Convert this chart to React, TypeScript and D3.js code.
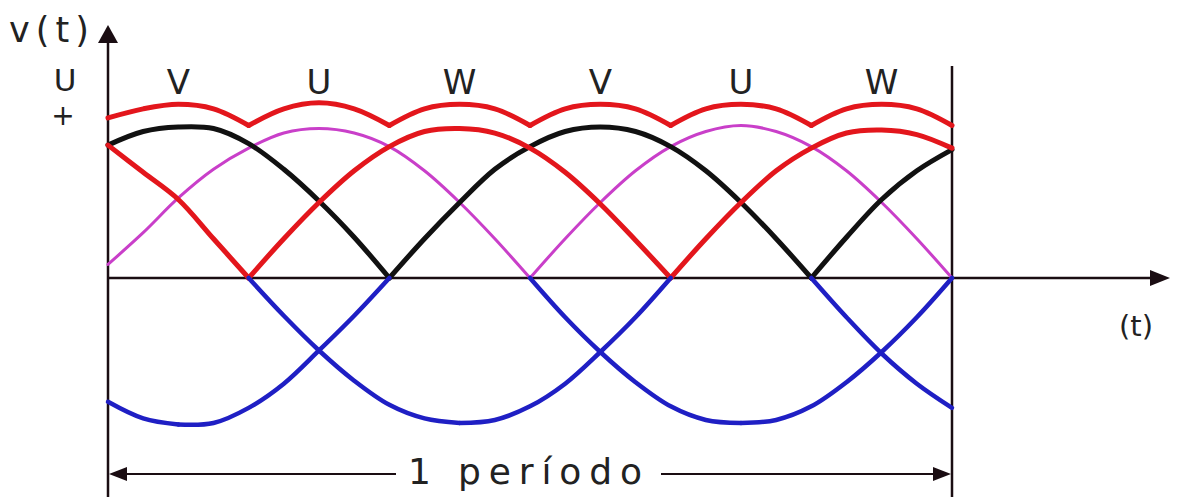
import React from "react";
import * as d3 from "d3";

// Angle grid (degrees) over one period
const ANGLES = [0, 15, 30, 45, 60, 75, 90, 105, 120, 135, 150, 165, 180, 195, 210, 225, 240, 255, 270, 285, 300, 315, 330, 345, 360];

// Positive (rectified) phases
const phaseU = [0.09, 0.30, 0.53, 0.72, 0.86, 0.96, 0.99, 0.96, 0.87, 0.71, 0.50, 0.26, 0, 0.26, 0.50, 0.71, 0.87, 0.97, 1.01, 0.97, 0.87, 0.71, 0.50, 0.26, 0];
const phaseV = [0.88, 0.97, 1.0, 0.99, 0.89, 0.72, 0.51, 0.27, 0, 0.26, 0.50, 0.72, 0.87, 0.97, 1.0, 0.97, 0.87, 0.71, 0.50, 0.26, 0, 0.27, 0.52, 0.71, 0.85];
const phaseW = [0.88, 0.70, 0.52, 0.26, 0, 0.26, 0.50, 0.71, 0.87, 0.97, 0.99, 0.96, 0.86, 0.70, 0.49, 0.25, 0, 0.26, 0.50, 0.71, 0.86, 0.96, 0.98, 0.95, 0.86];
// Upper envelope
const envelope = [1.06, 1.12, 1.15, 1.12, 1.01, 1.12, 1.16, 1.12, 1.01, 1.12, 1.15, 1.12, 1.01, 1.12, 1.15, 1.12, 1.01, 1.12, 1.15, 1.12, 1.01, 1.12, 1.15, 1.12, 1.01];
// Negative half-waves (blue)
const neg1 = [-0.82, -0.93, -0.97, -0.96, -0.86, -0.70, -0.48, -0.25, 0, null, null, null, null, null, null, null, null, null, null, null, null, null, null, null, null];
const neg2 = [null, null, null, null, 0, -0.25, -0.48, -0.68, -0.84, -0.93, -0.96, -0.94, -0.85, -0.70, -0.49, -0.26, 0, null, null, null, null, null, null, null, null];
const neg3 = [null, null, null, null, null, null, null, null, null, null, null, null, 0, -0.26, -0.49, -0.69, -0.85, -0.94, -0.96, -0.94, -0.85, -0.69, -0.49, -0.26, 0];
const neg4 = [null, null, null, null, null, null, null, null, null, null, null, null, null, null, null, null, null, null, null, null, 0, -0.26, -0.50, -0.70, -0.86];

const phaseLabels = ["V", "U", "W", "V", "U", "W"];
const phaseLabelAngles = [30, 90, 150, 210, 270, 330];

const W = 1177;
const H = 497;

function segments(vals: (number | null)[]): [number, number][][] {
  // split at interior local minima (sharp cusps)
  const segs: [number, number][][] = [];
  let cur: [number, number][] = [];
  vals.forEach((v, i) => {
    if (v == null) {
      if (cur.length) segs.push(cur);
      cur = [];
      return;
    }
    cur.push([ANGLES[i], v]);
    const prev = vals[i - 1];
    const next = vals[i + 1];
    if (prev != null && next != null && v <= prev && v <= next && i > 0 && i < vals.length - 1) {
      segs.push(cur);
      cur = [[ANGLES[i], v]];
    }
  });
  if (cur.length) segs.push(cur);
  return segs.filter((s) => s.length > 1);
}

export default function App() {
  const x = d3.scaleLinear().domain([0, 360]).range([108, 952]);
  const y = d3.scaleLinear().domain([0, 1]).range([278, 127]);
  const line = d3
    .line<[number, number]>()
    .x((d) => x(d[0]))
    .y((d) => y(d[1]))
    .curve(d3.curveCatmullRom.alpha(0.5));

  const series = [
    { vals: phaseU, color: "#c93fc9", w: 3 },
    { vals: phaseV, color: "#111111", w: 5 },
    { vals: phaseW, color: "#e3161c", w: 5 },
    { vals: neg1, color: "#1f1fc4", w: 4.5 },
    { vals: neg2, color: "#1f1fc4", w: 4.5 },
    { vals: neg3, color: "#1f1fc4", w: 4.5 },
    { vals: neg4, color: "#1f1fc4", w: 4.5 },
    { vals: envelope, color: "#e3161c", w: 5 },
  ];

  const axisColor = "#1a0d12";
  const font = "'DejaVu Sans', sans-serif";
  const x0 = x(0);
  const x1 = x(360);
  const yb = y(0);

  return (
    <svg width={W} height={H} style={{ position: "absolute", left: 0, top: 0, background: "#fff" }}>
      {/* axes */}
      <line x1={x0} y1={38} x2={x0} y2={H} stroke={axisColor} strokeWidth={2.5} />
      <path d={`M${x0},25 L${x0 - 10},43 L${x0 + 10},43 Z`} fill={axisColor} />
      <line x1={x0} y1={yb} x2={1152} y2={yb} stroke={axisColor} strokeWidth={2.5} />
      <path d={`M1170,${yb} L1150,${yb - 8} L1150,${yb + 8} Z`} fill={axisColor} />
      <line x1={x1} y1={66} x2={x1} y2={H} stroke={axisColor} strokeWidth={2.5} />

      {series.map((s, i) =>
        segments(s.vals).map((seg, j) => (
          <path
            key={`${i}-${j}`}
            d={line(seg) || ""}
            fill="none"
            stroke={s.color}
            strokeWidth={s.w}
            strokeLinecap="round"
            strokeLinejoin="round"
          />
        ))
      )}

      {/* phase labels */}
      {phaseLabels.map((l, i) => (
        <text key={i} x={x(phaseLabelAngles[i])} y={94} textAnchor="middle" fontFamily={font} fontSize={34} fill="#222">
          {l}
        </text>
      ))}
      <text x={65} y={91} textAnchor="middle" fontFamily={font} fontSize={31} fill="#222">U</text>
      <text x={63} y={125} textAnchor="middle" fontFamily={font} fontSize={28} fill="#222">+</text>
      <text x={9} y={42} fontFamily={font} fontSize={35} fill="#222" textLength={80} lengthAdjust="spacing">v(t)</text>
      <text x={1119} y={336} fontFamily={font} fontSize={29} fill="#222">(t)</text>

      {/* period arrow */}
      <line x1={x0 + 16} y1={474} x2={396} y2={474} stroke={axisColor} strokeWidth={2} />
      <path d={`M${x0 + 1},474 L${x0 + 19},467 L${x0 + 19},481 Z`} fill={axisColor} />
      <line x1={661} y1={474} x2={x1 - 16} y2={474} stroke={axisColor} strokeWidth={2} />
      <path d={`M${x1 - 1},474 L${x1 - 19},467 L${x1 - 19},481 Z`} fill={axisColor} />
      <text x={408} y={484} fontFamily={font} fontSize={36} fill="#222" textLength={234} lengthAdjust="spacing">1 período</text>
    </svg>
  );
}
